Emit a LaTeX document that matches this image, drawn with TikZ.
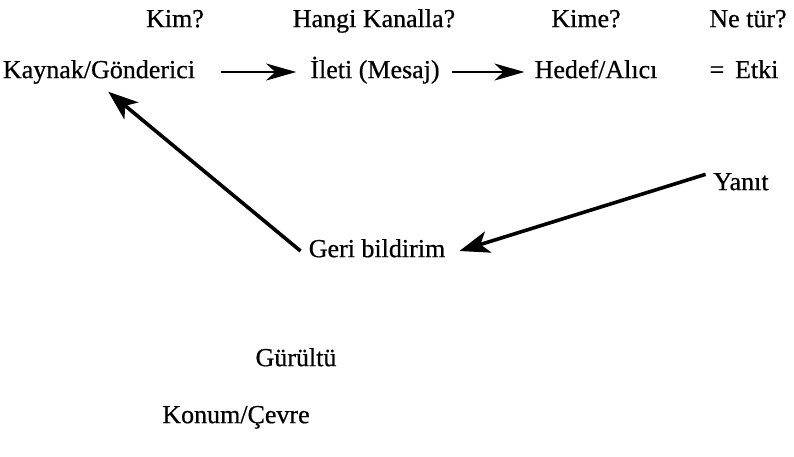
\documentclass[tikz,border=0pt]{standalone}
\usepackage{fontspec}
\setmainfont{Liberation Serif}[FakeBold=0.6]
\usetikzlibrary{arrows.meta}
\begin{document}
\begin{tikzpicture}[x=1pt,y=-1pt,
  lbl/.style={inner sep=0pt,font=\fontsize{26}{30}\selectfont,text height=18pt,text depth=5.7pt},
  flow/.style={line width=2.4pt,-{Stealth[length=30pt,width=17pt,inset=9pt]}},
  back/.style={line width=3.6pt,-{Stealth[length=30pt,width=22pt,inset=8pt]}}]
\useasboundingbox (0,0) rectangle (794,456);
% question row
\node[lbl] (q1) at (175,21) {Kim?};
\node[lbl] (q2) at (374,21) {Hangi Kanalla?};
\node[lbl] (q3) at (586,21) {Kime?};
\node[lbl] (q4) at (748,21) {Ne tür?};
% main chain
\node[lbl] (kaynak) at (99,72) {Kaynak/Gönderici};
\node[lbl] (ileti) at (375,72) {İleti (Mesaj)};
\node[lbl] (hedef) at (596,72) {Hedef/Alıcı};
\node[lbl] (etki) at (744,72) {=\, Etki};
% feedback loop
\node[lbl] (yanit) at (741,184) {Yanıt};
\node[lbl] (geri) at (377,251) {Geri bildirim};
% context
\node[lbl] (gurultu) at (296,360) {Gürültü};
\node[lbl] (konum) at (236,417) {Konum/Çevre};
% connectors
\draw[flow,shorten <=26pt,shorten >=14pt] (kaynak.east) -- (ileti.west);
\draw[flow,shorten <=12pt,shorten >=10pt] (ileti.east) -- (hedef.west);
\draw[back,shorten <=8pt] (yanit.north west) -- ([xshift=14pt]geri.east);
\draw[back,shorten >=12pt] ([xshift=-8pt]geri.west) -- (kaynak.south);
\end{tikzpicture}
\end{document}
